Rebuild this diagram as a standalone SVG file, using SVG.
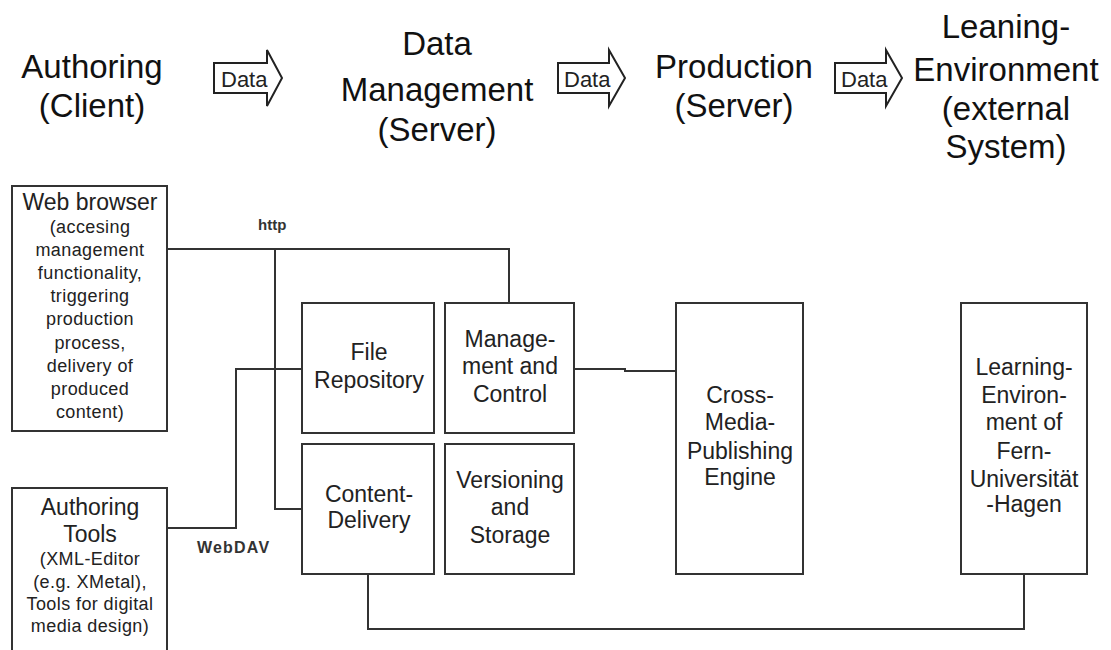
<svg xmlns="http://www.w3.org/2000/svg" width="1111" height="650" viewBox="0 0 1111 650">
  <style>
    .hd { font-family: "Liberation Sans", Arial, sans-serif; font-size: 33px; fill: #111; text-anchor: middle; }
    .ar { fill: #fff; stroke: #222; stroke-width: 2; }
    .arl { font-family: "Liberation Sans", Arial, sans-serif; font-size: 22px; fill: #222; }
    .box { fill: #fff; stroke: #333; stroke-width: 2; }
    .bt { font-family: "Liberation Sans", Arial, sans-serif; font-size: 23px; fill: #222; text-anchor: middle; }
    .st { font-family: "Liberation Sans", Arial, sans-serif; font-size: 18px; letter-spacing: 0.4px; fill: #222; text-anchor: middle; }
    .cn { fill: none; stroke: #333; stroke-width: 2; }
    .lb { font-family: "Liberation Sans", Arial, sans-serif; font-size: 15px; font-weight: bold; fill: #333; }
  </style>
  <rect width="1111" height="650" fill="#fff"/>

  <g id="headers">
    <text class="hd" x="92" y="78">Authoring</text>
    <text class="hd" x="92" y="117">(Client)</text>
    <text class="hd" x="437" y="55">Data</text>
    <text class="hd" x="437" y="101">Management</text>
    <text class="hd" x="437" y="141">(Server)</text>
    <text class="hd" x="734" y="78">Production</text>
    <text class="hd" x="734" y="117">(Server)</text>
    <text class="hd" x="1006" y="38">Leaning-</text>
    <text class="hd" x="1006" y="81">Environment</text>
    <text class="hd" x="1006" y="120">(external</text>
    <text class="hd" x="1006" y="158">System)</text>
  </g>

  <g id="data-arrow-1">
    <polygon class="ar" points="214,63 267,63 267,50 282,78 267,106 267,93 214,93"/>
    <text class="arl" x="221" y="87">Data</text>
  </g>
  <g id="data-arrow-2">
    <polygon class="ar" points="558,63 609,63 609,50 625,78 609,106 609,93 558,93"/>
    <text class="arl" x="564" y="87">Data</text>
  </g>
  <g id="data-arrow-3">
    <polygon class="ar" points="835,63 886,63 886,50 902,78 886,106 886,93 835,93"/>
    <text class="arl" x="841" y="87">Data</text>
  </g>

  <g id="connectors">
    <path class="cn" d="M167,249 H509 V303"/>
    <path class="cn" d="M275,249 V509 H302"/>
    <path class="cn" d="M167,528 H236 V369 H302"/>
    <path class="cn" d="M574,369 H625 V371 H676"/>
    <path class="cn" d="M368,574 V629 H1024 V574"/>
    <text class="lb" x="258" y="230">http</text>
    <text class="lb" x="197" y="553" style="font-size:16px;letter-spacing:1.2px">WebDAV</text>
  </g>

  <g id="web-browser">
    <rect class="box" x="12" y="186" width="155" height="245"/>
    <text class="bt" x="90" y="210">Web browser</text>
    <text class="st" x="90" y="233">(accesing</text>
    <text class="st" x="90" y="256">management</text>
    <text class="st" x="90" y="279">functionality,</text>
    <text class="st" x="90" y="302">triggering</text>
    <text class="st" x="90" y="325">production</text>
    <text class="st" x="90" y="349">process,</text>
    <text class="st" x="90" y="372">delivery of</text>
    <text class="st" x="90" y="395">produced</text>
    <text class="st" x="90" y="418">content)</text>
  </g>

  <g id="authoring-tools">
    <rect class="box" x="12" y="488" width="155" height="170"/>
    <text class="bt" x="90" y="515">Authoring</text>
    <text class="bt" x="90" y="542">Tools</text>
    <text class="st" x="90" y="565">(XML-Editor</text>
    <text class="st" x="90" y="588">(e.g. XMetal),</text>
    <text class="st" x="90" y="610">Tools for digital</text>
    <text class="st" x="90" y="632">media design)</text>
  </g>

  <g id="file-repository">
    <rect class="box" x="302" y="303" width="132" height="130"/>
    <text class="bt" x="369" y="360">File</text>
    <text class="bt" x="369" y="388">Repository</text>
  </g>

  <g id="management-control">
    <rect class="box" x="445" y="303" width="129" height="130"/>
    <text class="bt" x="510" y="347">Manage-</text>
    <text class="bt" x="510" y="374">ment and</text>
    <text class="bt" x="510" y="402">Control</text>
  </g>

  <g id="content-delivery">
    <rect class="box" x="302" y="444" width="132" height="130"/>
    <text class="bt" x="369" y="502">Content-</text>
    <text class="bt" x="369" y="528">Delivery</text>
  </g>

  <g id="versioning-storage">
    <rect class="box" x="445" y="444" width="129" height="130"/>
    <text class="bt" x="510" y="488">Versioning</text>
    <text class="bt" x="510" y="515">and</text>
    <text class="bt" x="510" y="543">Storage</text>
  </g>

  <g id="cross-media">
    <rect class="box" x="676" y="303" width="127" height="271"/>
    <text class="bt" x="740" y="403">Cross-</text>
    <text class="bt" x="740" y="430">Media-</text>
    <text class="bt" x="740" y="459">Publishing</text>
    <text class="bt" x="740" y="485">Engine</text>
  </g>

  <g id="learning-environment">
    <rect class="box" x="961" y="303" width="126" height="271"/>
    <text class="bt" x="1024" y="375">Learning-</text>
    <text class="bt" x="1024" y="403">Environ-</text>
    <text class="bt" x="1024" y="430">ment of</text>
    <text class="bt" x="1024" y="459">Fern-</text>
    <text class="bt" x="1024" y="487">Universität</text>
    <text class="bt" x="1024" y="512">-Hagen</text>
  </g>
</svg>
